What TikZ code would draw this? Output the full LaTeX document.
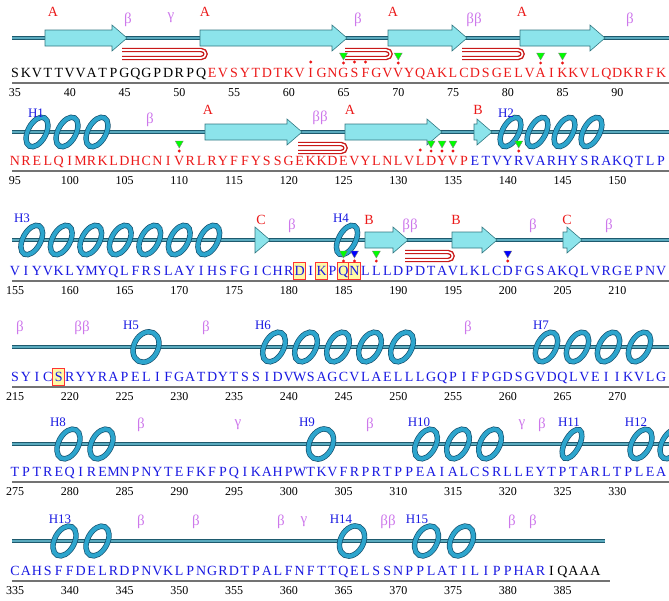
\documentclass[tikz,border=0pt]{standalone}
\usepackage{fontspec}
\setmainfont{Liberation Serif}
\usetikzlibrary{positioning,calc}
\definecolor{seqred}{RGB}{235,25,25}
\definecolor{seqblue}{RGB}{25,25,225}
\definecolor{betaviolet}{RGB}{205,120,235}
\definecolor{strandfill}{RGB}{140,228,235}
\definecolor{stranddark}{RGB}{50,120,130}
\definecolor{helixblue}{RGB}{45,165,205}
\definecolor{helixdark}{RGB}{20,80,110}
\definecolor{bbdark}{RGB}{30,90,110}
\definecolor{bblight}{RGB}{90,170,190}
\definecolor{pinred}{RGB}{200,25,25}
\tikzset{x=1pt}
\tikzset{y=-1pt}
\tikzstyle{seqtext}=[inner sep=0pt,anchor=base,font=\fontsize{14}{14}\selectfont]
\tikzstyle{numtext}=[inner sep=0pt,anchor=base,font=\fontsize{12}{12}\selectfont]
\tikzstyle{strandlbl}=[text=seqred,font=\fontsize{14}{14}\selectfont]
\tikzstyle{betalbl}=[text=betaviolet,font=\fontsize{15}{15}\selectfont]
\tikzstyle{helixlbl}=[text=seqblue,font=\fontsize{13}{13}\selectfont]
\tikzset{backbone/.style={draw=bbdark,double=bblight,double distance=1.2pt,line width=1.4pt}}
\tikzset{axisline/.style={draw=black!55,line width=1.6pt}}
\tikzset{pinline/.style={draw=pinred,double=white,double distance=1.6pt,line width=1.4pt}}
\tikzset{coil/.style={draw=helixdark,double=helixblue,double distance=4pt,line width=.7pt}}
% sequence letters, one slot per residue
\newcommand{\seqrun}[4]{%
  \def\seqj{#1}\def\seqy{#2}\def\seqc{#3}\seqloop#4\relax}
\def\seqloop#1{\ifx#1\relax\else
  \node[seqtext,text=\seqc] (q\seqy-\seqj) at ({15+\seqj*10.95},\seqy) {#1};
  \pgfmathtruncatemacro\seqj{\seqj+1}%
  \expandafter\seqloop\fi}
\newcommand{\strand}[3]{
  \filldraw[fill=strandfill,draw=stranddark,line width=.6pt] (#1,#3-8) -- (#2-15,#3-8) -- (#2-15,#3-13)
    -- (#2,#3) -- (#2-15,#3+13) -- (#2-15,#3+8) -- (#1,#3+8) -- cycle;
}
\newcommand{\hairpin}[3]{
  \draw[pinline] (#1,#3+12) -- (#2-4,#3+12) .. controls (#2+2,#3+12) and (#2+2,#3+20) .. (#2-4,#3+20) -- (#1,#3+20);
}
\newcommand{\helix}[4]{% x1, turns, turn width, y
  \foreach \k in {1,...,#2}{
    \pgfmathsetmacro{\cx}{#1+(\k-.5)*#3}
    \draw[coil,rotate around={-28:(\cx,#4)}] (\cx,#4) ellipse ({#3*.3} and 16);
  }
}
\newcommand{\sitemark}[3]{% slot, text y, triangle colour
  \pgfmathsetmacro{\mx}{15+#1*10.95}
  \filldraw[fill=#3,draw=black!50,line width=.4pt] (\mx-4,#2-24) -- (\mx+4,#2-24) -- (\mx,#2-17) -- cycle;
  \fill[seqred] (\mx,#2-14) circle (1.6);
}
\newcommand{\sitedot}[2]{
  \pgfmathsetmacro{\mx}{15+#1*10.95}
  \fill[seqred] (\mx,#2-15) circle (1.6);
}
\newcommand{\sitebox}[2]{
  \pgfmathsetmacro{\mx}{15+#1*10.95}
  \filldraw[fill=yellow!35,draw=red!80,line width=.8pt] (\mx-6,#2-13) rectangle (\mx+6,#2+4);
}
\newcommand{\numaxis}[4]{% first number, count, baseline y, axis end
  \draw[axisline] (12,#3+6) -- (#4,#3+6);
  \foreach \k in {0,...,#2}{
    \pgfmathtruncatemacro{\nn}{#1+5*\k}
    \node[numtext] (n#3-\k) at ({15+\k*5*10.95},#3+19) {\nn};
  }
}

\begin{document}
\begin{tikzpicture}
  \useasboundingbox (0,0) rectangle (669,600);

  %% row 1: 35-94
  \draw[backbone] (12,38) -- (669,38);
  \strand{45}{127}{38} \strand{200}{347}{38} \strand{388}{467}{38} \strand{520}{605}{38}
  \hairpin{122}{205}{38} \hairpin{345}{390}{38} \hairpin{462}{522}{38}
  \node[strandlbl] (a1) at (53,12) {A};
  \node[betalbl] (b1) at (128,20) {β};
  \node[betalbl] (g1) at (171,18) {γ};
  \node[strandlbl] (a2) at (205,12) {A};
  \node[betalbl] (b2) at (358,20) {β};
  \node[strandlbl] (a3) at (393,12) {A};
  \node[betalbl] (b3) at (474,20) {ββ};
  \node[strandlbl] (a4) at (522,12) {A};
  \node[betalbl] (b4) at (630,20) {β};
  \sitedot{27}{77} \sitedot{31}{77} \sitedot{32}{77}
  \sitemark{30}{77}{green} \sitemark{35}{77}{green} \sitemark{48}{77}{green} \sitemark{50}{77}{green}
  \seqrun{0}{77}{black}{SKVTTVVATPGQGPDRPQ}
  \seqrun{18}{77}{seqred}{EVSYTDTKVIGNGSFGVVYQAKLCDSGELVAIKKVLQDKRFK}
  \numaxis{35}{11}{77}{669}

  %% row 2: 95-154
  \draw[backbone] (12,132) -- (669,132);
  \helix{22}{3}{30}{132}
  \strand{205}{302}{132} \strand{345}{442}{132} \strand{474}{492}{132}
  \hairpin{298}{345}{132}
  \helix{497}{4}{27}{132}
  \node[helixlbl] (h1) at (36,113) {H1};
  \node[betalbl] (b5) at (150,120) {β};
  \node[strandlbl] (a5) at (208,110) {A};
  \node[betalbl] (b6) at (320,118) {ββ};
  \node[strandlbl] (a6) at (350,110) {A};
  \node[strandlbl] (c1) at (478,110) {B};
  \node[helixlbl] (h2) at (506,113) {H2};
  \sitedot{37}{165}
  \sitemark{15}{165}{green} \sitemark{38}{165}{green} \sitemark{39}{165}{green} \sitemark{40}{165}{green} \sitemark{46}{165}{green}
  \seqrun{0}{165}{seqred}{NRELQIMRKLDHCNIVRLRYFFYSSGEKKDEVYLNLVLDYVP}
  \seqrun{42}{165}{seqblue}{ETVYRVARHYSRAKQTLP}
  \numaxis{95}{11}{165}{669}

  %% row 3: 155-214
  \draw[backbone] (12,240) -- (669,240);
  \helix{17}{7}{29.5}{240}
  \strand{255}{270}{240}
  \helix{333}{1}{28}{240}
  \strand{365}{408}{240} \strand{452}{497}{240} \strand{563}{582}{240}
  \hairpin{405}{452}{240}
  \node[helixlbl] (h3) at (22,218) {H3};
  \node[strandlbl] (c2) at (261,220) {C};
  \node[betalbl] (b7) at (292,226) {β};
  \node[helixlbl] (h4) at (341,218) {H4};
  \node[strandlbl] (c3) at (369,220) {B};
  \node[betalbl] (b8) at (410,226) {ββ};
  \node[strandlbl] (c4) at (456,220) {B};
  \node[betalbl] (b9) at (533,226) {β};
  \node[strandlbl] (c5) at (567,220) {C};
  \node[betalbl] (b10) at (609,226) {β};
  \sitebox{26}{275} \sitebox{28}{275} \sitebox{30}{275} \sitebox{31}{275}
  \sitemark{30}{275}{green} \sitemark{31}{275}{blue} \sitemark{33}{275}{green} \sitemark{45}{275}{blue}
  \seqrun{0}{275}{seqblue}{VIYVKLYMYQLFRSLAYIHSFGICHRDIKPQNLLLDPDTAVLKLCDFGSAKQLVRGEPNV}
  \numaxis{155}{11}{275}{669}

  %% row 4: 215-274
  \draw[backbone] (12,347) -- (669,347);
  \helix{126}{1}{40}{347}
  \helix{258}{5}{32}{347}
  \helix{531}{4}{31}{347}
  \node[betalbl] (b11) at (20,328) {β};
  \node[betalbl] (b12) at (82,328) {ββ};
  \node[helixlbl] (h5) at (131,325) {H5};
  \node[betalbl] (b13) at (206,328) {β};
  \node[helixlbl] (h6) at (263,325) {H6};
  \node[betalbl] (b14) at (468,328) {β};
  \node[helixlbl] (h7) at (541,325) {H7};
  \sitebox{4}{381}
  \seqrun{0}{381}{seqblue}{SYICSRYYRAPELIFGATDYTSSIDVWSAGCVLAELLLGQPIFPGDSGVDQLVEIIKVLG}
  \numaxis{215}{11}{381}{669}

  %% row 5: 275-334
  \draw[backbone] (12,444) -- (669,444);
  \helix{52}{2}{33}{444}
  \helix{302}{1}{38}{444}
  \helix{410}{3}{32}{444}
  \helix{560}{1}{24}{444}
  \helix{626}{2}{30}{444}
  \node[helixlbl] (h8) at (58,422) {H8};
  \node[betalbl] (b15) at (141,425) {β};
  \node[betalbl] (g2) at (238,425) {γ};
  \node[helixlbl] (h9) at (307,422) {H9};
  \node[betalbl] (b16) at (370,425) {β};
  \node[helixlbl] (h10) at (419,422) {H10};
  \node[betalbl] (g3) at (522,425) {γ};
  \node[betalbl] (b17) at (542,425) {β};
  \node[helixlbl] (h11) at (569,422) {H11};
  \node[helixlbl] (h12) at (636,422) {H12};
  \seqrun{0}{476}{seqblue}{TPTREQIREMNPNYTEFKFPQIKAHPWTKVFRPRTPPEAIALCSRLLEYTPTARLTPLEA}
  \numaxis{275}{11}{476}{669}

  %% row 6: 335-388
  \draw[backbone] (12,541) -- (605,541);
  \helix{48}{2}{33}{541}
  \helix{333}{1}{38}{541}
  \helix{409}{2}{35}{541}
  \node[helixlbl] (h13) at (60,519) {H13};
  \node[betalbl] (b18) at (141,522) {β};
  \node[betalbl] (b19) at (196,522) {β};
  \node[betalbl] (b20) at (281,522) {β};
  \node[betalbl] (g4) at (304,522) {γ};
  \node[helixlbl] (h14) at (341,519) {H14};
  \node[betalbl] (b21) at (388,522) {ββ};
  \node[helixlbl] (h15) at (417,519) {H15};
  \node[betalbl] (b22) at (512,522) {β};
  \node[betalbl] (b23) at (533,522) {β};
  \seqrun{0}{575}{seqblue}{CAHSFFDELRDPNVKLPNGRDTPALFNFTTQELSSNPPLATILIPPHAR}
  \seqrun{49}{575}{black}{IQAAA}
  \numaxis{335}{10}{575}{610}
\end{tikzpicture}
\end{document}
